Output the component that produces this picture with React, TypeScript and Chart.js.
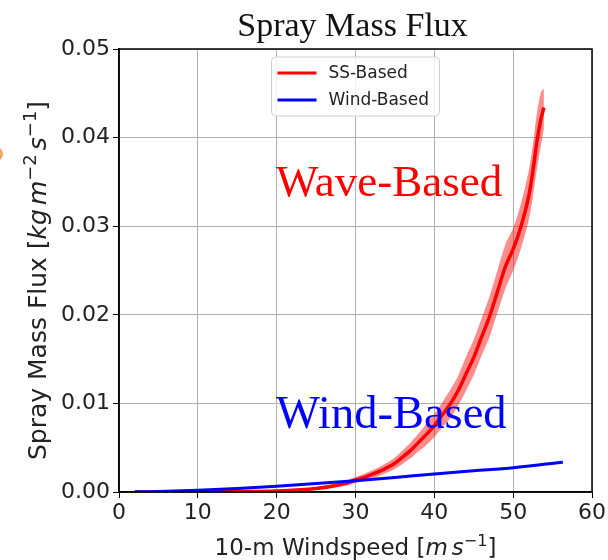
import React, { useEffect, useRef } from "react";
import { Chart, registerables } from "chart.js";

Chart.register(...registerables);

// Wave-based (sea-state) spray mass flux: central estimate and spread
const ssWind = [2, 5, 10, 15, 20, 23, 25, 27, 29, 30, 31, 32, 33, 34, 35, 36, 37, 38, 39, 40, 41, 42, 43, 44, 45, 46, 47, 48, 49, 50, 51, 52, 52.5, 53, 53.5, 53.9];
const ssFlux = [0, 0.000005, 0.00002, 0.00005, 0.00012, 0.00025, 0.0004, 0.00065, 0.00105, 0.00135, 0.00162, 0.00195, 0.00232, 0.00275, 0.00325, 0.00395, 0.0047, 0.0056, 0.0065, 0.0075, 0.0087, 0.0099, 0.0114, 0.0133, 0.0152, 0.0175, 0.0198, 0.0226, 0.0254, 0.0274, 0.03, 0.0335, 0.0362, 0.0395, 0.042, 0.0434];
const ssUpper = [0.00003, 0.00003, 0.00005, 0.0001, 0.0002, 0.00036, 0.00056, 0.00088, 0.00135, 0.00168, 0.002, 0.0024, 0.0028, 0.0033, 0.0039, 0.0047, 0.0056, 0.0066, 0.0077, 0.0088, 0.0101, 0.0115, 0.0131, 0.0152, 0.0172, 0.0196, 0.0221, 0.025, 0.0279, 0.0298, 0.0326, 0.0364, 0.0392, 0.0427, 0.045, 0.0455];
const ssLower = [0, 0, 0, 0.00002, 0.00006, 0.00015, 0.00026, 0.00044, 0.00076, 0.00102, 0.00124, 0.0015, 0.0018, 0.0022, 0.0026, 0.0032, 0.0038, 0.0046, 0.0053, 0.0062, 0.0073, 0.0083, 0.0097, 0.0114, 0.0132, 0.0154, 0.0175, 0.0202, 0.0229, 0.025, 0.0275, 0.0308, 0.0333, 0.0364, 0.039, 0.041];

// Wind-based spray mass flux
const windSpeed = [2, 4, 6, 8, 10, 15, 20, 25, 30, 35, 40, 45, 50, 56.3];
const windFlux = [0.00001, 0.00004, 0.00008, 0.00013, 0.0002, 0.0004, 0.00065, 0.00095, 0.00128, 0.00165, 0.00204, 0.0024, 0.00275, 0.00336];

const xRange = [0, 60];
const yRange = [0, 0.05];
const xStep = 10;
const yStep = 0.01;

const legendLabels = ["SS-Based", "Wind-Based"];
const legendColors = ["#ff0000", "#0000ff"];

type Seg = { t: string; italic?: boolean; sup?: boolean; gap?: number };

const yLabel: Seg[] = [
  { t: "Spray Mass Flux [" },
  { t: "kg", italic: true, gap: 4 },
  { t: "m", italic: true },
  { t: "\u22122", sup: true, gap: 4 },
  { t: "s", italic: true },
  { t: "\u22121", sup: true },
  { t: "]" },
];
const xLabel: Seg[] = [
  { t: "10-m Windspeed [" },
  { t: "m", italic: true, gap: 4 },
  { t: "s", italic: true },
  { t: "\u22121", sup: true },
  { t: "]" },
];

function drawRich(ctx: CanvasRenderingContext2D, segs: Seg[], size: number, cx: number, cy: number, rotate: boolean) {
  const fontFor = (s: Seg) =>
    `${s.italic ? "italic " : ""}${s.sup ? Math.round(size * 0.7) : size}px "DejaVu Sans"`;
  let total = 0;
  const widths = segs.map((s) => {
    ctx.font = fontFor(s);
    const w = ctx.measureText(s.t).width;
    total += w + (s.gap || 0);
    return w;
  });
  ctx.save();
  ctx.translate(cx, cy);
  if (rotate) ctx.rotate(-Math.PI / 2);
  ctx.textBaseline = "alphabetic";
  ctx.textAlign = "left";
  ctx.fillStyle = "#222";
  let x = -total / 2;
  segs.forEach((s, i) => {
    ctx.font = fontFor(s);
    ctx.fillText(s.t, x, s.sup ? -size * 0.4 : 0);
    x += widths[i] + (s.gap || 0);
  });
  ctx.restore();
}

const decor = {
  id: "decor",
  afterDraw(chart: any) {
    const { ctx, chartArea: a } = chart;
    ctx.save();

    // axes frame
    ctx.strokeStyle = "#000";
    ctx.lineWidth = 1.5;
    ctx.strokeRect(a.left, a.top, a.right - a.left, a.bottom - a.top);

    // legend box (upper centre)
    const lw = 168;
    const lh = 59;
    const lx = (a.left + a.right) / 2 - lw / 2;
    const ly = a.top + 8;
    ctx.beginPath();
    ctx.roundRect(lx, ly, lw, lh, 4);
    ctx.fillStyle = "rgba(255,255,255,0.85)";
    ctx.fill();
    ctx.strokeStyle = "#d0d0d0";
    ctx.lineWidth = 1;
    ctx.stroke();
    ctx.font = '17px "DejaVu Sans"';
    ctx.textBaseline = "middle";
    ctx.textAlign = "left";
    legendLabels.forEach((lab, i) => {
      const yy = ly + 16 + i * 27;
      ctx.strokeStyle = legendColors[i];
      ctx.lineWidth = 3;
      ctx.beginPath();
      ctx.moveTo(lx + 6, yy);
      ctx.lineTo(lx + 45, yy);
      ctx.stroke();
      ctx.fillStyle = "#222";
      ctx.fillText(lab, lx + 57, yy + 1);
    });

    // title
    ctx.fillStyle = "#111";
    ctx.textAlign = "center";
    ctx.textBaseline = "alphabetic";
    ctx.font = '34px "Liberation Serif"';
    ctx.fillText("Spray Mass Flux", (a.left + a.right) / 2 - 3, a.top - 13);

    // in-plot annotations
    ctx.textAlign = "left";
    ctx.font = '45px "Liberation Serif"';
    ctx.fillStyle = "#ff0000";
    ctx.fillText("Wave-Based", a.left + 157, a.top + 147);
    ctx.font = '46.5px "Liberation Serif"';
    ctx.fillStyle = "#0000ff";
    ctx.fillText("Wind-Based", a.left + 157, a.top + 379);

    // axis titles
    drawRich(ctx, yLabel, 25, 46, (a.top + a.bottom) / 2 + 10, true);
    drawRich(ctx, xLabel, 23, (a.left + a.right) / 2, 555, false);

    // orange mark at left edge
    ctx.fillStyle = "rgba(245,150,70,0.85)";
    ctx.beginPath();
    ctx.ellipse(-4, 154, 7, 7, 0, 0, Math.PI * 2);
    ctx.fill();

    ctx.restore();
  },
};

export default function App() {
  const ref = useRef<HTMLCanvasElement | null>(null);

  useEffect(() => {
    if (!ref.current) return;
    const pts = (xs: number[], ys: number[]) => xs.map((x, i) => ({ x, y: ys[i] }));
    const chart = new Chart(ref.current, {
      type: "line",
      data: {
        datasets: [
          {
            label: "SS upper",
            data: pts(ssWind, ssUpper),
            borderWidth: 0,
            pointRadius: 0,
            backgroundColor: "rgba(255,0,0,0.45)",
            fill: "+1",
            cubicInterpolationMode: "monotone",
            order: 3,
          },
          {
            label: "SS lower",
            data: pts(ssWind, ssLower),
            borderWidth: 0,
            pointRadius: 0,
            backgroundColor: "rgba(255,0,0,0.45)",
            fill: false,
            cubicInterpolationMode: "monotone",
            order: 3,
          },
          {
            label: legendLabels[0],
            data: pts(ssWind, ssFlux),
            borderColor: legendColors[0],
            borderWidth: 3.5,
            pointRadius: 0,
            fill: false,
            cubicInterpolationMode: "monotone",
            order: 2,
          },
          {
            label: legendLabels[1],
            data: pts(windSpeed, windFlux),
            borderColor: legendColors[1],
            borderWidth: 3,
            pointRadius: 0,
            fill: false,
            cubicInterpolationMode: "monotone",
            order: 1,
          },
        ],
      },
      options: {
        responsive: false,
        animation: false,
        devicePixelRatio: 1,
        layout: { padding: { top: 49, right: 14, left: 0, bottom: 0 } },
        plugins: { legend: { display: false }, tooltip: { enabled: false }, title: { display: false } },
        scales: {
          x: {
            type: "linear",
            min: xRange[0],
            max: xRange[1],
            afterFit: (s: any) => {
              s.height = 68;
            },
            ticks: {
              stepSize: xStep,
              color: "#222",
              font: { family: "DejaVu Sans", size: 22 },
              padding: 2,
              maxRotation: 0,
            },
            grid: { color: "#b0b0b0", lineWidth: 1, tickColor: "#000", tickLength: 6 },
            border: { color: "#000", width: 1.5 },
          },
          y: {
            type: "linear",
            min: yRange[0],
            max: yRange[1],
            afterFit: (s: any) => {
              s.width = 119;
            },
            ticks: {
              stepSize: yStep,
              color: "#222",
              font: { family: "DejaVu Sans", size: 22 },
              padding: 3,
              callback: (v: any) => Number(v).toFixed(2),
            },
            grid: { color: "#b0b0b0", lineWidth: 1, tickColor: "#000", tickLength: 6 },
            border: { color: "#000", width: 1.5 },
          },
        },
      },
      plugins: [decor],
    });
    return () => chart.destroy();
  }, []);

  return (
    <div style={{ position: "absolute", left: 0, top: 0, width: 608, height: 560, background: "#fff" }}>
      <canvas ref={ref} width={608} height={560} />
    </div>
  );
}
